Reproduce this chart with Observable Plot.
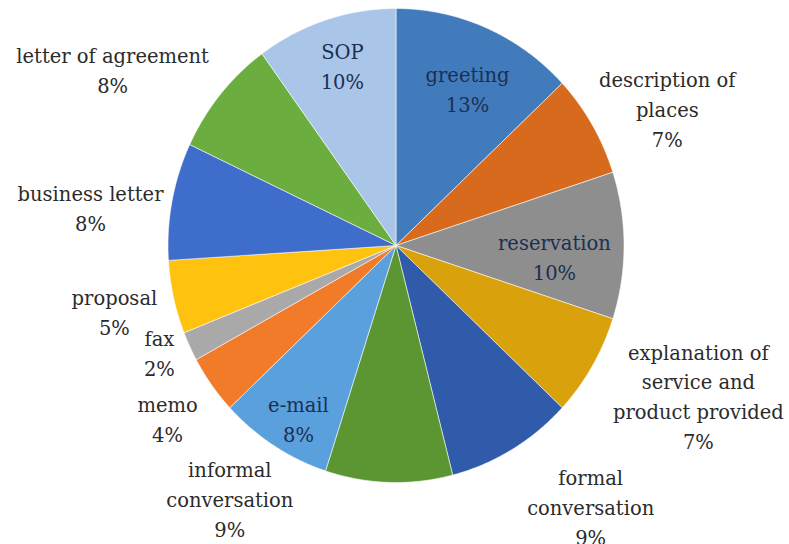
<!DOCTYPE html>
<html><head><meta charset="utf-8">
<script src="https://cdn.jsdelivr.net/npm/d3@7"></script>
<script src="https://cdn.jsdelivr.net/npm/@observablehq/plot@0.6"></script>
<style>body{margin:0;background:#fff;} svg{display:block;}</style>
</head><body><div id="chart"></div>
<script>
// ---- data ----
const categories = ["greeting","description of places","reservation","explanation of service and product provided","formal conversation","informal conversation","e-mail","memo","fax","proposal","business letter","letter of agreement","SOP"];
const shares = [13,7,10,7,9,9,8,4,2,5,8,8,10];
const labelText = ["greeting","description of\nplaces","reservation","explanation of\nservice and\nproduct provided","formal\nconversation","informal\nconversation","e-mail","memo","fax","proposal","business letter","letter of agreement","SOP"];
const colors = ["#417bbc","#d86a1e","#8e8e8e","#d9a20c","#2f5baa","#5c9632","#5aa0dd","#f27b2a","#a9a9a9","#ffc20e","#3e6dcc","#6cad3f","#a9c5e8"];
// ---- layout (label placement in polar terms) ----
const labelAngle = [25.2,63.9,93.5,115.4,142.1,214.4,210.5,234.1,246.7,257.5,277,301,342.9];
const labelRadius = [0.737,1.325,0.696,1.468,1.39,1.29,0.843,1.237,1.13,1.265,1.35,1.45,0.8];
const insideLabel = [true,false,true,false,false,false,true,false,false,false,false,false,true];

const total = d3.sum(shares);
const rad = Math.PI / 180;
const pts = [];
let cum = 0;
categories.forEach((c, i) => {
  const a0 = cum / total * 360, a1 = (cum + shares[i]) / total * 360;
  cum += shares[i];
  pts.push({cat: c, x: 0, y: 0});
  const n = Math.max(2, Math.ceil((a1 - a0) / 0.5));
  for (let k = 0; k <= n; k++) {
    const a = (a0 + (a1 - a0) * k / n) * rad;
    pts.push({cat: c, x: Math.sin(a), y: Math.cos(a)});
  }
  pts.push({cat: c, x: 0, y: 0});
});
const labels = categories.map((c, i) => ({
  text: labelText[i] + "\n" + shares[i] + "%",
  x: labelRadius[i] * Math.sin(labelAngle[i] * rad),
  y: labelRadius[i] * Math.cos(labelAngle[i] * rad),
  inside: insideLabel[i]
}));

const W = 789, H = 544;
const chart = Plot.plot({
  width: W, height: H,
  marginLeft: 167.5, marginRight: W - 623.5, marginTop: 8, marginBottom: H - 482,
  x: {domain: [-1, 1], axis: null},
  y: {domain: [-1, 1], axis: null},
  color: {domain: categories, range: colors},
  style: {fontFamily: "'DejaVu Serif', serif", background: "#fff"},
  marks: [
    Plot.line(pts, {x: "x", y: "y", z: "cat", fill: "cat", stroke: "#ffffff", strokeWidth: 0.8, strokeOpacity: 0.7, curve: "linear-closed"}),
    Plot.text(labels.filter(d => !d.inside), {x: "x", y: "y", text: "text", fill: "#2b2b2b", fontSize: 19.5, lineHeight: 1.53, textAnchor: "middle"}),
    Plot.text(labels.filter(d => d.inside), {x: "x", y: "y", text: "text", fill: "#1c2f52", fontSize: 19.5, lineHeight: 1.53, textAnchor: "middle"})
  ]
});
document.getElementById("chart").appendChild(chart);
</script>
</body></html>
